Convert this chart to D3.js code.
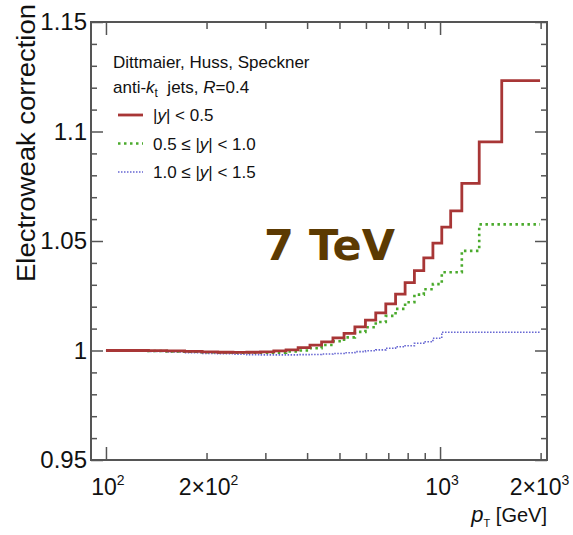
<!DOCTYPE html>
<html>
<head>
<meta charset="utf-8">
<script src="https://cdn.jsdelivr.net/npm/d3@7"></script>
<style>
  body { margin: 0; background: #fff; }
  text { font-family: "Liberation Sans", Arial, sans-serif; fill: #111; }
</style>
</head>
<body>
<div id="chart"></div>
<script>
// bin edges in pT [GeV]
var binEdges = [100, 116, 134, 152, 172, 194, 216, 240, 264, 290, 318, 346, 376, 408, 442,
  478, 516, 556, 598, 642, 688, 736, 786, 838, 894, 952, 1012, 1076, 1162, 1310, 1530, 1992];

// electroweak correction per bin
var corrCentral = [1.0000, 1.0000, 0.9999, 0.9998, 0.9996, 0.9994, 0.9992, 0.9991, 0.9992, 0.9994,
  0.9998, 1.0003, 1.0013, 1.0025, 1.0039, 1.0058, 1.0078, 1.0108, 1.0139, 1.0172, 1.0213,
  1.0257, 1.0310, 1.0365, 1.0423, 1.0490, 1.0563, 1.0638, 1.0763, 1.0953, 1.1232];
var corrMid = [1.0000, 0.9999, 0.9998, 0.9996, 0.9994, 0.9992, 0.9991, 0.9990, 0.9990, 0.9990,
  0.9990, 0.9996, 1.0000, 1.0010, 1.0025, 1.0042, 1.0060, 1.0085, 1.0106, 1.0130, 1.0158,
  1.0190, 1.0220, 1.0255, 1.0280, 1.0303, 1.0357, 1.0357, 1.0455, 1.0576, 1.0576];
var corrForward = [1.0000, 0.9998, 0.9996, 0.9993, 0.9990, 0.9987, 0.9985, 0.9983, 0.9981, 0.9980,
  0.9980, 0.9980, 0.9981, 0.9982, 0.9984, 0.9986, 0.9990, 0.9995, 0.9999, 1.0003, 1.0010,
  1.0017, 1.0022, 1.0033, 1.0040, 1.0056, 1.0083, 1.0083, 1.0083, 1.0083, 1.0083];

var seriesNames = ["|y| < 0.5", "0.5 \u2264 |y| < 1.0", "1.0 \u2264 |y| < 1.5"];
var yMajor = [0.95, 1.0, 1.05, 1.1, 1.15];
var xMajor = [100, 1000];
var xLabelled = [100, 200, 1000, 2000];

var width = 573, height = 535;
var margin = {top: 22, right: 26, bottom: 75, left: 91};

var svg = d3.select("#chart").append("svg")
    .attr("width", width)
    .attr("height", height);

var x = d3.scaleLog()
    .domain([90.2, 2090])
    .range([margin.left, width - margin.right]);

var y = d3.scaleLinear()
    .domain([0.95, 1.15])
    .range([height - margin.bottom, margin.top]);

var x0 = margin.left, x1 = width - margin.right;
var y0 = height - margin.bottom, y1 = margin.top;

// minor tick values
var xMinor = [];
[100, 1000].forEach(function(d) {
  for (var k = 2; k <= 9; k++) if (d * k < 2090) xMinor.push(d * k);
});
var yMinor = d3.range(95, 116).map(function(d) { return d / 100; })
    .filter(function(d) { return yMajor.indexOf(d) < 0; });

function tickStyle(g) {
  g.select(".domain").remove();
  g.selectAll(".tick line").attr("stroke", "#555").attr("stroke-width", 1.5);
}

// x ticks, bottom and top, pointing in
svg.append("g").attr("transform", `translate(0,${y0})`)
    .call(d3.axisBottom(x).tickValues(xMajor).tickSize(-13).tickFormat(""))
    .call(tickStyle);
svg.append("g").attr("transform", `translate(0,${y0})`)
    .call(d3.axisBottom(x).tickValues(xMinor).tickSize(-7).tickFormat(""))
    .call(tickStyle);
svg.append("g").attr("transform", `translate(0,${y1})`)
    .call(d3.axisTop(x).tickValues(xMajor).tickSize(-13).tickFormat(""))
    .call(tickStyle);
svg.append("g").attr("transform", `translate(0,${y1})`)
    .call(d3.axisTop(x).tickValues(xMinor).tickSize(-7).tickFormat(""))
    .call(tickStyle);

// y ticks, left and right
var leftAxis = svg.append("g").attr("transform", `translate(${x0},0)`)
    .call(d3.axisLeft(y).tickValues(yMajor).tickSize(-12).tickPadding(4).tickFormat(d3.format("~g")))
    .call(tickStyle);
leftAxis.selectAll("text")
    .style("font-size", "24px")
    .style("font-family", "Liberation Sans, Arial, sans-serif")
    .attr("fill", "#111");
svg.append("g").attr("transform", `translate(${x0},0)`)
    .call(d3.axisLeft(y).tickValues(yMinor).tickSize(-6).tickFormat(""))
    .call(tickStyle);
svg.append("g").attr("transform", `translate(${x1},0)`)
    .call(d3.axisRight(y).tickValues(yMajor).tickSize(-12).tickFormat(""))
    .call(tickStyle);
svg.append("g").attr("transform", `translate(${x1},0)`)
    .call(d3.axisRight(y).tickValues(yMinor).tickSize(-6).tickFormat(""))
    .call(tickStyle);

// x tick labels with exponents
var xl = svg.append("g").selectAll("text")
    .data(xLabelled)
    .enter().append("text")
    .attr("x", function(d) { return d === 2000 ? x(d) - 1 : x(d) + 2; })
    .attr("y", y0 + 35)
    .attr("text-anchor", "middle")
    .style("font-size", "23px");
xl.append("tspan").text(function(d) {
  var m = d / Math.pow(10, Math.floor(Math.log10(d)));
  return (m === 1 ? "" : m + "\u00d7") + "10";
});
xl.append("tspan")
    .attr("dy", -10)
    .style("font-size", "14px")
    .text(function(d) { return Math.floor(Math.log10(d)); });

// frame
svg.append("rect")
    .attr("x", x0).attr("y", y1)
    .attr("width", x1 - x0).attr("height", y0 - y1)
    .attr("fill", "none")
    .attr("stroke", "#555")
    .attr("stroke-width", 2);

// step histograms
var series = [
  {values: corrCentral, color: "#a83636", width: 2.8, dash: null},
  {values: corrMid, color: "#4aaa2c", width: 2.6, dash: "2.5,3.5"},
  {values: corrForward, color: "#6565d2", width: 1.6, dash: "1.5,1.5"}
];

var line = d3.line()
    .x(function(d) { return x(d[0]); })
    .y(function(d) { return y(d[1]); })
    .curve(d3.curveStepAfter);

series.slice().reverse().forEach(function(s) {
  var pts = s.values.map(function(v, i) { return [binEdges[i], v]; });
  pts.push([binEdges[binEdges.length - 1], s.values[s.values.length - 1]]);
  svg.append("path")
      .datum(pts)
      .attr("d", line)
      .attr("fill", "none")
      .attr("stroke", s.color)
      .attr("stroke-width", s.width)
      .attr("stroke-dasharray", s.dash);
});

// legend
var legend = svg.append("g").style("font-size", "17px");
legend.append("text").attr("x", 113).attr("y", 68).text("Dittmaier, Huss, Speckner");
var l2 = legend.append("text").attr("x", 113).attr("y", 93);
l2.append("tspan").text("anti-");
l2.append("tspan").style("font-style", "italic").text("k");
l2.append("tspan").attr("dy", 4).style("font-size", "12px").text("t");
l2.append("tspan").attr("dy", -4).text("\u00a0\u00a0jets, ");
l2.append("tspan").style("font-style", "italic").text("R");
l2.append("tspan").text("=0.4");

series.forEach(function(s, i) {
  var ly = 115 + i * 28.5;
  legend.append("line")
      .attr("x1", 118).attr("x2", 143)
      .attr("y1", ly).attr("y2", ly)
      .attr("stroke", s.color)
      .attr("stroke-width", s.width)
      .attr("stroke-dasharray", s.dash);
  var t = legend.append("text").attr("x", 153).attr("y", ly + 6);
  var parts = seriesNames[i].split("y");
  t.append("tspan").text(parts[0]);
  t.append("tspan").style("font-style", "italic").text("y");
  t.append("tspan").text(parts[1]);
});

// energy label
svg.append("text")
    .attr("x", 264).attr("y", 260)
    .style("font-family", "DejaVu Sans, sans-serif")
    .style("font-weight", "bold")
    .style("font-size", "43px")
    .style("fill", "#5c3a02")
    .text("7 TeV");

// axis titles
svg.append("text")
    .attr("transform", "translate(35,4) rotate(-90)")
    .attr("text-anchor", "end")
    .attr("textLength", 278)
    .attr("lengthAdjust", "spacingAndGlyphs")
    .style("font-size", "25px")
    .text("Electroweak correction");

var xt = svg.append("text")
    .attr("x", x1).attr("y", 522)
    .attr("text-anchor", "end")
    .style("font-size", "20px");
xt.append("tspan").style("font-style", "italic").style("font-size", "22px").text("p");
xt.append("tspan").attr("dy", 5).style("font-size", "11px").text("T");
xt.append("tspan").attr("dy", -5).text(" [GeV]");
</script>
</body>
</html>
